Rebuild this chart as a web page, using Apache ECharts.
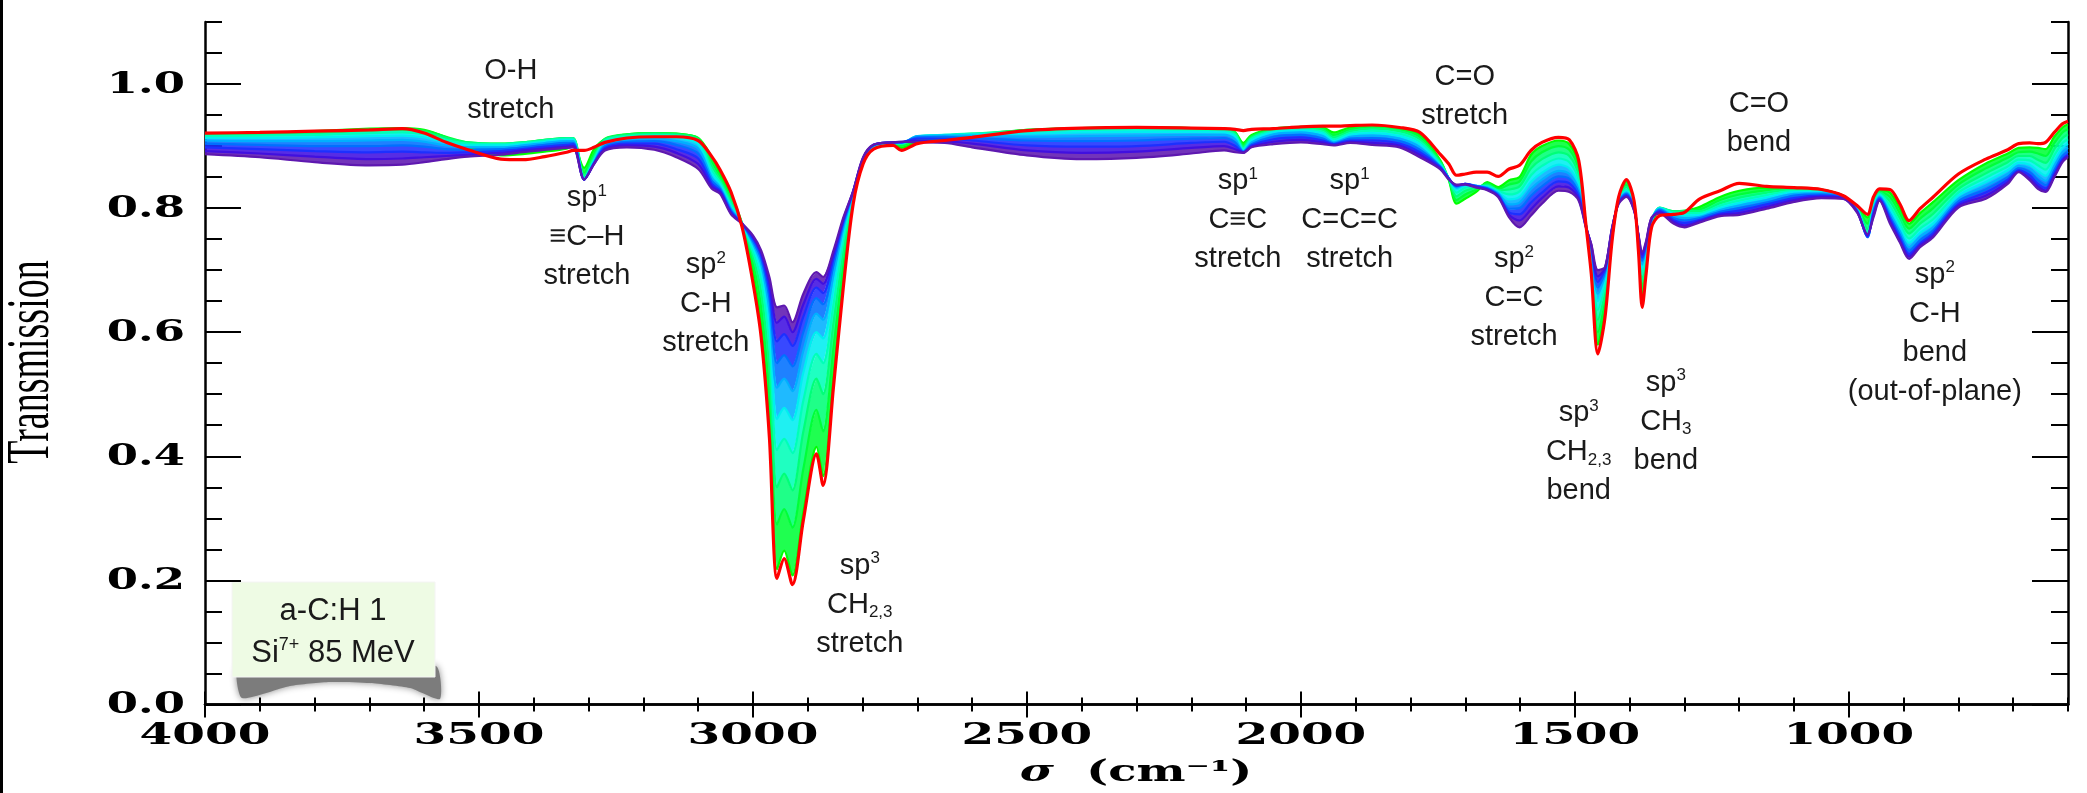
<!DOCTYPE html>
<html><head><meta charset="utf-8">
<script src="https://cdn.jsdelivr.net/npm/echarts@6/dist/echarts.min.js"></script>
<style>html,body{margin:0;padding:0;background:#fff;overflow:hidden}#c{width:2087px;height:793px}</style>
</head><body><div id="c"></div>
<script>
// wavenumber grid (cm^-1)
const sigma = [4000,3900,3800,3700,3640,3600,3560,3520,3460,3420,
 3380,3340,3328,3308,3290,3270,3230,3180,3140,3100,
 3075,3060,3040,3020,3000,2985,2970,2956,2943,2928,
 2908,2884,2872,2853,2835,2817,2799,2780,2744,2729,
 2700,2650,2600,2500,2400,2300,2200,2140,2120,2105,
 2090,2050,2000,1960,1940,1910,1870,1820,1783,1746,
 1730,1716,1700,1680,1660,1640,1620,1601,1580,1560,
 1530,1510,1493,1480,1470,1458,1445,1432,1420,1406,
 1392,1384,1377,1370,1360,1345,1320,1300,1272,1235,
 1200,1150,1100,1050,1010,985,966,955,944,925,
 907,890,870,846,800,750,710,690,670,655,
 641,625,610,600];

// pristine film (red)
const pristine = [.921,.922,.924,.926,.928,.921,.906,.894,.879,.878,
 .883,.890,.893,.893,.898,.906,.913,.915,.915,.909,
 .883,.862,.826,.770,.680,.592,.431,.203,.235,.193,
 .297,.404,.353,.512,.673,.807,.871,.895,.901,.893,
 .904,.909,.914,.925,.929,.930,.929,.928,.927,.925,
 .927,.928,.931,.932,.932,.933,.934,.930,.922,.887,
 .871,.853,.855,.858,.858,.851,.863,.869,.893,.906,
 .914,.910,.877,.775,.694,.565,.624,.748,.818,.846,
 .812,.732,.640,.694,.769,.788,.790,.793,.815,.828,
 .840,.835,.833,.830,.820,.804,.790,.818,.831,.830,
 .807,.780,.799,.818,.855,.879,.894,.904,.905,.904,
 .906,.922,.936,.940];

// irradiated spectra, increasing fluence
const fluence1 = [.920,.921,.924,.928,.929,.926,.914,.898,.885,.887,
 .891,.896,.900,.865,.895,.911,.919,.921,.920,.913,
 .882,.855,.822,.775,.700,.610,.450,.218,.248,.208,
 .310,.415,.368,.530,.685,.810,.872,.897,.903,.897,
 .906,.911,.916,.926,.929,.930,.929,.928,.922,.905,
 .918,.928,.931,.930,.922,.930,.933,.929,.918,.878,
 .845,.807,.815,.826,.842,.834,.845,.850,.886,.900,
 .909,.903,.870,.775,.705,.580,.635,.750,.816,.843,
 .810,.738,.655,.700,.772,.795,.792,.795,.802,.818,
 .828,.833,.833,.830,.820,.802,.785,.815,.829,.825,
 .800,.775,.792,.810,.845,.872,.888,.897,.898,.897,
 .895,.915,.930,.935];
const fluence2 = [.919,.920,.923,.927,.928,.925,.915,.906,.904,.906,
 .910,.913,.913,.857,.888,.912,.919,.921,.920,.913,
 .875,.850,.816,.776,.712,.640,.500,.290,.315,.285,
 .380,.475,.440,.575,.710,.815,.874,.898,.904,.901,
 .910,.914,.918,.926,.929,.930,.929,.928,.922,.902,
 .916,.927,.930,.928,.918,.927,.931,.927,.915,.876,
 .846,.813,.822,.830,.840,.831,.838,.843,.875,.890,
 .900,.894,.862,.775,.712,.600,.650,.753,.815,.838,
 .807,.743,.670,.710,.775,.799,.795,.796,.798,.813,
 .822,.829,.832,.830,.820,.801,.775,.810,.827,.818,
 .792,.767,.783,.800,.838,.864,.881,.890,.891,.888,
 .884,.905,.922,.927];
const fluence3 = [.918,.919,.921,.925,.926,.923,.913,.906,.904,.906,
 .910,.913,.913,.852,.883,.911,.918,.920,.919,.911,
 .868,.846,.811,.776,.722,.665,.540,.350,.372,.345,
 .440,.525,.500,.615,.730,.819,.875,.899,.904,.903,
 .913,.917,.920,.925,.928,.929,.928,.927,.920,.899,
 .914,.926,.929,.926,.914,.924,.928,.924,.911,.874,
 .847,.819,.828,.833,.838,.829,.830,.835,.864,.879,
 .890,.884,.853,.775,.718,.620,.663,.756,.814,.834,
 .805,.747,.682,.720,.777,.801,.795,.795,.795,.808,
 .817,.825,.830,.829,.819,.800,.766,.806,.825,.811,
 .784,.759,.775,.791,.831,.856,.874,.884,.884,.878,
 .873,.895,.913,.919];
const fluence4 = [.916,.917,.918,.921,.922,.919,.910,.904,.903,.905,
 .909,.912,.912,.849,.879,.909,.916,.918,.917,.908,
 .861,.842,.806,.776,.730,.685,.580,.410,.428,.405,
 .490,.565,.550,.645,.748,.822,.876,.900,.905,.904,
 .915,.918,.920,.923,.926,.927,.926,.925,.918,.896,
 .912,.924,.927,.923,.911,.921,.925,.920,.907,.872,
 .848,.825,.833,.835,.836,.828,.822,.827,.853,.868,
 .880,.874,.845,.774,.724,.636,.675,.759,.813,.830,
 .803,.750,.693,.727,.779,.801,.793,.792,.792,.804,
 .812,.821,.828,.828,.819,.799,.760,.802,.823,.804,
 .776,.751,.767,.782,.825,.849,.867,.878,.877,.869,
 .862,.885,.905,.911];
const fluence5 = [.913,.913,.914,.916,.917,.914,.906,.901,.901,.903,
 .907,.910,.910,.847,.876,.906,.913,.915,.913,.903,
 .855,.838,.802,.776,.737,.700,.610,.460,.478,.458,
 .535,.600,.590,.672,.760,.824,.877,.900,.905,.905,
 .916,.918,.919,.920,.922,.923,.923,.922,.915,.894,
 .909,.922,.925,.920,.908,.918,.921,.916,.903,.870,
 .848,.830,.836,.836,.834,.826,.814,.818,.842,.857,
 .870,.864,.837,.774,.729,.650,.685,.762,.812,.827,
 .801,.752,.702,.733,.780,.800,.790,.788,.789,.800,
 .808,.817,.826,.826,.818,.798,.756,.799,.821,.798,
 .769,.744,.760,.775,.820,.842,.861,.873,.870,.860,
 .852,.876,.897,.904];
const fluence6 = [.909,.908,.908,.909,.910,.907,.901,.898,.898,.901,
 .905,.908,.908,.846,.874,.903,.910,.912,.908,.896,
 .849,.834,.799,.776,.743,.710,.635,.510,.525,.505,
 .570,.630,.620,.693,.768,.825,.878,.901,.905,.905,
 .916,.917,.917,.915,.916,.917,.918,.918,.911,.892,
 .906,.919,.922,.916,.906,.915,.917,.912,.898,.868,
 .848,.833,.838,.836,.833,.824,.806,.809,.831,.846,
 .860,.855,.830,.773,.733,.662,.692,.764,.811,.825,
 .800,.754,.709,.737,.781,.799,.787,.784,.786,.797,
 .804,.813,.823,.824,.818,.797,.754,.797,.819,.792,
 .763,.737,.754,.769,.815,.836,.855,.868,.864,.852,
 .844,.868,.890,.897];
const fluence7 = [.904,.902,.900,.900,.901,.899,.895,.894,.895,.898,
 .902,.905,.905,.846,.873,.900,.907,.908,.902,.888,
 .844,.831,.796,.775,.747,.718,.655,.550,.563,.545,
 .600,.655,.645,.708,.775,.826,.879,.901,.906,.906,
 .914,.915,.913,.909,.908,.909,.912,.913,.906,.891,
 .903,.915,.918,.912,.904,.912,.913,.908,.894,.867,
 .848,.835,.839,.836,.832,.822,.799,.800,.820,.835,
 .851,.847,.824,.772,.736,.672,.697,.766,.810,.823,
 .799,.755,.715,.740,.782,.797,.784,.780,.784,.794,
 .800,.809,.820,.822,.817,.796,.753,.795,.817,.787,
 .757,.731,.748,.764,.811,.830,.850,.864,.858,.845,
 .837,.861,.884,.891];
const fluence8 = [.898,.895,.892,.890,.891,.890,.889,.890,.892,.895,
 .899,.902,.903,.846,.872,.897,.904,.904,.895,.880,
 .839,.828,.794,.775,.751,.724,.668,.585,.597,.578,
 .625,.672,.663,.719,.779,.827,.880,.902,.906,.906,
 .912,.912,.909,.901,.899,.900,.905,.907,.900,.890,
 .901,.911,.914,.909,.903,.909,.909,.904,.890,.866,
 .848,.836,.839,.835,.831,.820,.793,.790,.809,.825,
 .843,.840,.819,.771,.739,.681,.701,.767,.809,.821,
 .798,.756,.720,.743,.783,.795,.781,.776,.781,.791,
 .796,.806,.816,.820,.816,.795,.754,.791,.815,.783,
 .752,.726,.743,.760,.807,.825,.846,.861,.853,.839,
 .832,.856,.879,.886];
const fluence9 = [.892,.888,.883,.879,.880,.882,.884,.886,.889,.893,
 .896,.899,.900,.846,.871,.895,.901,.899,.889,.871,
 .835,.826,.792,.775,.754,.728,.680,.615,.625,.600,
 .645,.686,.678,.727,.782,.828,.881,.902,.906,.907,
 .909,.908,.904,.893,.889,.891,.897,.900,.895,.890,
 .899,.907,.910,.906,.902,.907,.905,.901,.886,.864,
 .847,.837,.839,.834,.830,.819,.789,.780,.798,.816,
 .835,.833,.815,.770,.741,.690,.703,.768,.808,.819,
 .797,.757,.725,.745,.784,.793,.778,.772,.779,.789,
 .792,.802,.813,.818,.816,.794,.756,.788,.813,.779,
 .748,.722,.740,.756,.804,.820,.842,.859,.848,.835,
 .828,.852,.876,.884];
const fluence10 = [.887,.882,.874,.869,.870,.874,.879,.883,.886,.890,
 .894,.897,.898,.846,.871,.893,.898,.894,.882,.863,
 .831,.823,.790,.775,.756,.732,.689,.640,.643,.616,
 .662,.697,.689,.732,.785,.828,.882,.902,.906,.907,
 .906,.905,.898,.885,.879,.881,.888,.893,.890,.889,
 .898,.903,.906,.903,.901,.905,.902,.898,.882,.863,
 .846,.838,.838,.833,.829,.818,.785,.769,.788,.807,
 .828,.826,.812,.769,.742,.700,.705,.769,.807,.818,
 .796,.758,.730,.747,.785,.791,.775,.769,.777,.787,
 .789,.799,.810,.816,.815,.793,.758,.785,.812,.775,
 .745,.718,.737,.753,.801,.815,.839,.858,.845,.831,
 .826,.850,.874,.882];

const curveColors = ['#00ff00','#00ff38','#00ff78','#00ffb8','#00eef0','#00b0ff','#0070ff','#1c30ff','#4010e0','#5e18b0'];
const pristineColor = '#ff0000';
const xTickLabels = [4000,3500,3000,2500,2000,1500,1000];
const yTickLabels = [0.0,0.2,0.4,0.6,0.8,1.0];

const annotations = [
 {s:3442, t:1.052, text:'O-H\nstretch'},
 {s:3303, t:0.848, text:'sp{sup|1}\n\u2261C\u2013H\nstretch'},
 {s:3086, t:0.740, text:'sp{sup|2}\nC-H\nstretch'},
 {s:2805, t:0.255, text:'sp{sup|3}\nCH{sub|2,3}\nstretch'},
 {s:2115, t:0.875, text:'sp{sup|1}\nC\u2261C\nstretch'},
 {s:1911, t:0.875, text:'sp{sup|1}\nC=C=C\nstretch'},
 {s:1701, t:1.043, text:'C=O\nstretch'},
 {s:1611, t:0.749, text:'sp{sup|2}\nC=C\nstretch'},
 {s:1493, t:0.501, text:'sp{sup|3}\nCH{sub|2,3}\nbend'},
 {s:1334, t:0.550, text:'sp{sup|3}\nCH{sub|3}\nbend'},
 {s:1164, t:0.999, text:'C=O\nbend'},
 {s:843,  t:0.724, text:'sp{sup|2}\nC-H\nbend\n(out-of-plane)'}
];

const curves = [fluence1,fluence2,fluence3,fluence4,fluence5,fluence6,fluence7,fluence8,fluence9,fluence10];

const chart = echarts.init(document.getElementById('c'), null, {renderer:'canvas', width:2087, height:793});

const series = [];
series.push({
  type:'custom', coordinateSystem:'cartesian2d', xAxisIndex:0, yAxisIndex:0,
  clip:true, silent:true, z:1,
  data: curves.slice(0,-1).map((_,k)=>[k]),
  renderItem: function(params, api){
    const k = params.dataIndex;
    const a = curves[k], b = curves[k+1];
    const pts = [];
    for (let i=0;i<sigma.length;i++) pts.push(api.coord([sigma[i], a[i]]));
    for (let i=sigma.length-1;i>=0;i--) pts.push(api.coord([sigma[i], b[i]]));
    return {type:'polygon', shape:{points:pts, smooth:0.3}, style:{fill:curveColors[k+1], opacity:0.88}};
  }
});
curves.forEach((arr,k)=>{
  series.push({type:'line', xAxisIndex:0, yAxisIndex:0, data: sigma.map((s,i)=>[s,arr[i]]),
    symbol:'none', smooth:0.3, silent:true, z:2,
    lineStyle:{color:curveColors[k], width:2.2}});
});
series.push({type:'line', xAxisIndex:0, yAxisIndex:0, data: sigma.map((s,i)=>[s,pristine[i]]),
  symbol:'none', smooth:0.3, silent:true, z:3, lineStyle:{color:pristineColor, width:3.2}});

const axLine = {show:true, lineStyle:{color:'#000', width:2.5}};
function xAx(pos, major){
  return {type:'value', position:pos, min:600, max:4000, inverse:true,
    interval: major ? undefined : 100,
    axisLine: major ? {show:false} : axLine,
    axisTick: major ? {show:true, inside:true, length:13, lineStyle:{color:'#000',width:2}, customValues:xTickLabels}
                    : {show:true, inside:true, length:7, lineStyle:{color:'#000',width:2}},
    axisLabel:{show:false}, splitLine:{show:false}};
}
function yAx(pos, major){
  return {type:'value', position:pos, min:0, max:1.1,
    interval: major ? undefined : 0.05,
    axisLine: major ? {show:false} : axLine,
    axisTick: major ? {show:true, inside:true, length:36, lineStyle:{color:'#000',width:2}, customValues:yTickLabels}
                    : {show:true, inside:true, length:17, lineStyle:{color:'#000',width:2}},
    axisLabel:{show:false}, splitLine:{show:false}};
}

chart.setOption({
  animation:false,
  backgroundColor:'#fff',
  grid:{left:205, right:19, top:22, bottom:88.6, containLabel:false, outerBoundsMode:'none'},
  xAxis:[xAx('bottom',false), xAx('bottom',true), xAx('top',false), xAx('top',true)],
  yAxis:[yAx('left',false), yAx('left',true), yAx('right',false), yAx('right',true)],
  series: series
});

const px = s => chart.convertToPixel({xAxisIndex:0}, s);
const py = t => chart.convertToPixel({yAxisIndex:0}, t);
const labelFont = 'bold 29px "DejaVu Serif"';
const g = [];
g.push({type:'rect', shape:{x:0,y:0,width:3,height:793}, style:{fill:'#000'}});
xTickLabels.forEach(v=>{
  g.push({type:'text', x:px(v), y:736, scaleX:1.62,
    style:{text:String(v), font:labelFont, fill:'#000', textAlign:'center', textVerticalAlign:'middle'}});
});
yTickLabels.forEach(v=>{
  g.push({type:'text', x:185, y:py(v)+1, scaleX:1.55,
    style:{text:v.toFixed(1), font:labelFont, fill:'#000', textAlign:'right', textVerticalAlign:'middle'}});
});
g.push({type:'text', x:1136, y:773, scaleX:1.6,
  style:{text:'{s|\u03c3}  (cm\u207b\u00b9)', font:labelFont, fill:'#000', textAlign:'center', textVerticalAlign:'middle',
    rich:{s:{font:'italic bold 29px "DejaVu Serif"', fill:'#000'}}}});
g.push({type:'text', x:32, y:362, rotation:Math.PI/2, scaleY:1.6,
  style:{text:'Transmission', font:'38px "Liberation Serif"', fill:'#000', textAlign:'center', textVerticalAlign:'middle'}});

const annFont = '29px "Liberation Sans"';
const annRich = {
  sup:{fontSize:17, fontFamily:'Liberation Sans', fill:'#1a1a1a', verticalAlign:'top', padding:[4,0,0,0]},
  sub:{fontSize:17, fontFamily:'Liberation Sans', fill:'#1a1a1a', verticalAlign:'bottom', padding:[0,0,3,0]}
};
annotations.forEach(a=>{
  g.push({type:'text', x:px(a.s), y:py(a.t),
    style:{text:a.text, font:annFont, fill:'#1a1a1a', textAlign:'center', textVerticalAlign:'top', lineHeight:39, rich:annRich}});
});

// sample label with curled-paper shadow
g.push({type:'polygon', shape:{points:[[238,668],[300,670],[330,676],[362,670],[436,666],[440,699],[410,688],[370,683],[330,682],[290,686],[242,698]], smooth:0.2},
  style:{fill:'#7c7c7c', shadowBlur:7, shadowColor:'rgba(0,0,0,0.45)'}});
g.push({type:'rect', shape:{x:232,y:582,width:203,height:95}, style:{fill:'#eefbe4', stroke:'#f4f4f4', lineWidth:1}});
g.push({type:'text', x:333, y:590,
  style:{text:'a-C:H 1\nSi{sup|7+} 85 MeV', font:'31px "Liberation Sans"', fill:'#1a1a1a', textAlign:'center', textVerticalAlign:'top', lineHeight:42,
    rich:{sup:{fontSize:18, fontFamily:'Liberation Sans', fill:'#1a1a1a', verticalAlign:'top', padding:[4,0,0,0]}}}});

chart.setOption({graphic:g});
</script>
</body></html>
